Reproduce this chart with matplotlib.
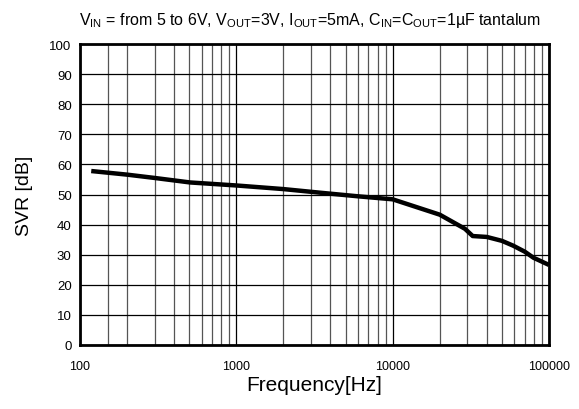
import matplotlib
matplotlib.use("Agg")
import matplotlib.pyplot as plt
from matplotlib.ticker import FixedLocator, NullFormatter

plt.rcParams['font.family'] = ['Liberation Sans', 'DejaVu Sans']
plt.rcParams['mathtext.fontset'] = 'custom'
plt.rcParams['mathtext.rm'] = 'Liberation Sans'
plt.rcParams['mathtext.it'] = 'Liberation Sans'

# data
freq_hz = [118, 200, 300, 506, 1000, 2000, 3430, 6000, 10000, 20000, 29000,
           32500, 40000, 50000, 59000, 70000, 79500, 100000]
svr_db = [57.8, 56.6, 55.5, 54.0, 53.0, 51.8, 50.6, 49.4, 48.4, 43.3, 38.6,
          36.2, 35.9, 34.6, 33.0, 31.0, 29.0, 26.6]

x_major = [100, 1000, 10000, 100000]
x_major_labels = ["100", "1000", "10000", "100000"]
x_minor = [150, 200, 300, 400, 500, 600, 700, 800, 900,
           2000, 3000, 4000, 5000, 6000, 7000, 8000, 9000,
           20000, 30000, 40000, 50000, 60000, 70000, 80000, 90000]
y_ticks = list(range(0, 101, 10))

title = (r"$\mathregular{V_{IN}}$ = from 5 to 6V, $\mathregular{V_{OUT}}$=3V, "
         r"$\mathregular{I_{OUT}}$=5mA, $\mathregular{C_{IN}}$=$\mathregular{C_{OUT}}$=1µF tantalum")

fig = plt.figure(figsize=(5.79, 4.10), dpi=100)
ax = fig.add_axes([80/579, 1-346/410, (549-80)/579, (346-45)/410])

ax.set_xscale('log')
ax.set_xlim(100, 100000)
ax.set_ylim(0, 100)

ax.xaxis.set_major_locator(FixedLocator(x_major))
ax.set_xticklabels(x_major_labels)
ax.xaxis.set_minor_locator(FixedLocator(x_minor))
ax.xaxis.set_minor_formatter(NullFormatter())
ax.set_yticks(y_ticks)

ax.grid(True, which='major', axis='both', color='black', linewidth=0.9)
ax.grid(True, which='minor', axis='x', color='#555555', linewidth=0.9)
ax.set_axisbelow(True)

ax.plot(freq_hz, svr_db, color='black', linewidth=3.2, solid_capstyle='butt', zorder=3)

for s in ax.spines.values():
    s.set_linewidth(2.0)
    s.set_color('black')

ax.tick_params(which='both', length=0)
ax.tick_params(axis='x', pad=11, labelsize=9)
ax.tick_params(axis='y', pad=6, labelsize=9.5)

ax.set_xlabel("Frequency[Hz]", fontsize=15, labelpad=2)
ax.set_ylabel("SVR [dB]", fontsize=14, labelpad=12)
fig.text(310/579, 1-21/410, title, ha='center', va='center', fontsize=11.5)

fig.savefig("out.png", dpi=100)
